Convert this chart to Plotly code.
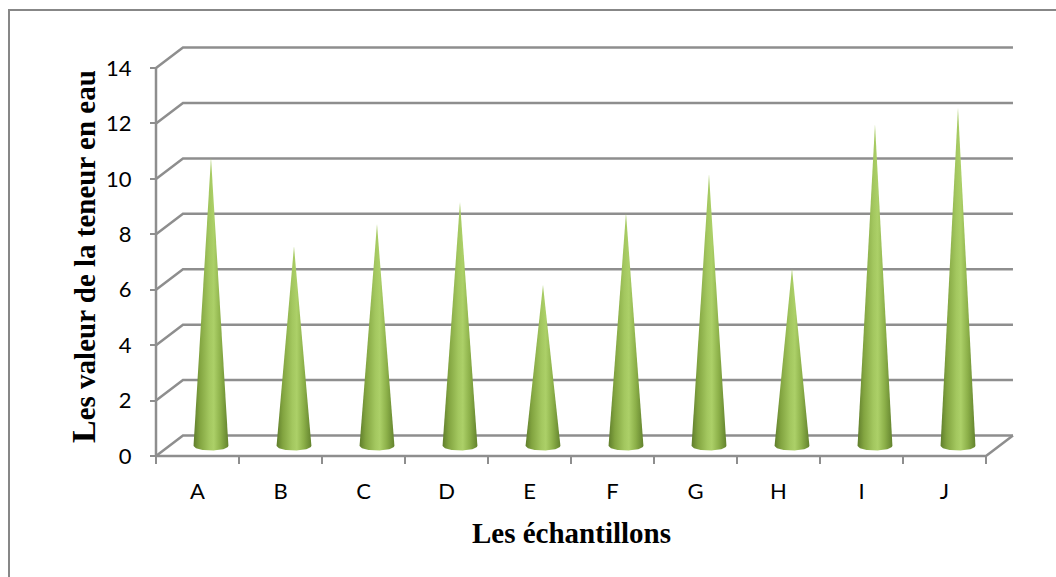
import numpy as np
import plotly.graph_objects as go

# Teneur en eau par échantillon
categories = ["A", "B", "C", "D", "E", "F", "G", "H", "I", "J"]
teneur = [10.4, 7.2, 8.0, 8.8, 5.8, 8.4, 9.8, 6.4, 11.6, 12.2]
y_ticks = [0, 2, 4, 6, 8, 10, 12, 14]

W, H = 1056, 577
GRID = "#8e8e8e"
BORDER = "#878787"

# Pixel layout of the plotting frame
ML, MR, MT, MB = 144, 32, 44, 114
X0_PX, UNIT_X = 156, 83.0      # x = 0 sits on the front axis
Y0_PX, UNIT_Y = 456, 27.71     # y = 0 sits on the front floor edge
plot_w = W - ML - MR
plot_h = H - MT - MB
xmin = -(X0_PX - ML) / UNIT_X
xmax = xmin + plot_w / UNIT_X
ymin = -((H - MB) - Y0_PX) / UNIT_Y
ymax = ymin + plot_h / UNIT_Y

# Oblique depth of the 3-D box (in axis units)
DX, DY = 0.325, 0.74
# Cone base radius and ellipse half-height
RX, RY = 0.21, 0.17

n = len(categories)
fig = go.Figure()


def line_trace(xs, ys, width=2.5, color=GRID):
    return go.Scatter(x=xs, y=ys, mode="lines",
                      line=dict(color=color, width=width),
                      hoverinfo="skip", showlegend=False)


# Side-wall and back-wall gridlines
for v in y_ticks:
    fig.add_trace(line_trace([0, DX, n + DX], [v, v + DY, v + DY]))

# Floor front and right edges, front value axis
fig.add_trace(line_trace([0, n, n + DX], [0, 0, DY]))
fig.add_trace(line_trace([0, 0], [0, y_ticks[-1]]))

cone_scale = [
    [0.0, "#5f7d2b"],
    [0.18, "#82a440"],
    [0.45, "#a3c75f"],
    [0.58, "#acd068"],
    [0.78, "#8cb049"],
    [1.0, "#62822d"],
]

t = np.linspace(0, np.pi, 48)
for i, (cat, v) in enumerate(zip(categories, teneur)):
    xc = i + 0.5 + DX / 2
    yb = DY / 2
    ex = xc + RX * np.cos(t)
    ey = yb - RY * np.sin(t)
    xs = [xc - RX, xc, xc + RX] + list(ex)
    ys = [yb, yb + v, yb] + list(ey)
    fig.add_trace(go.Scatter(
        x=xs, y=ys, mode="lines", fill="toself",
        fillgradient=dict(type="horizontal", colorscale=cone_scale),
        line=dict(width=0, color="rgba(0,0,0,0)"),
        name=cat, hoverinfo="skip", showlegend=False,
    ))


def px_x(px):
    return (px - ML) / plot_w


def px_y(py):
    return 1 - (py - MT) / plot_h


fig.update_layout(
    width=W, height=H,
    margin=dict(l=ML, r=MR, t=MT, b=MB),
    paper_bgcolor="white", plot_bgcolor="white",
    xaxis=dict(
        range=[xmin, xmax], anchor="free", position=(0 - ymin) / (ymax - ymin),
        tickmode="array", tickvals=[i + 0.5 for i in range(n)], ticktext=categories,
        ticks="", showgrid=False, zeroline=False, showline=False,
        minor=dict(tickmode="array", tickvals=list(range(n + 1)), ticks="outside",
                   ticklen=7, tickwidth=2, tickcolor=GRID, showgrid=False),
        tickfont=dict(family="Lato", size=22, color="#000"),
        ticklabelstandoff=20,
    ),
    yaxis=dict(
        range=[ymin, ymax], anchor="free", position=(0 - xmin) / (xmax - xmin),
        tickmode="array", tickvals=y_ticks,
        ticks="outside", ticklen=6, tickwidth=2, tickcolor=GRID,
        showgrid=False, zeroline=False, showline=False,
        tickfont=dict(family="Lato", size=22, color="#000"),
        ticklabelstandoff=14,
    ),
    annotations=[
        dict(text="Les échantillons", xref="x", yref="paper",
             x=n / 2, y=px_y(533), xanchor="center", yanchor="middle",
             showarrow=False,
             font=dict(family="Liberation Serif", size=29, color="#000", weight="bold")),
        dict(text="<span style='font-size:34px'>L</span>es valeur de la teneur en eau",
             xref="paper", yref="paper", x=px_x(83), y=px_y(257),
             xanchor="center", yanchor="middle", textangle=-90, showarrow=False,
             font=dict(family="Liberation Serif", size=29, color="#000", weight="bold")),
    ],
    shapes=[
        dict(type="rect", xref="paper", yref="paper",
             x0=px_x(9), x1=px_x(1080), y0=px_y(10), y1=px_y(600),
             line=dict(color=BORDER, width=2), layer="below"),
    ],
)

fig.write_html("out.html")
